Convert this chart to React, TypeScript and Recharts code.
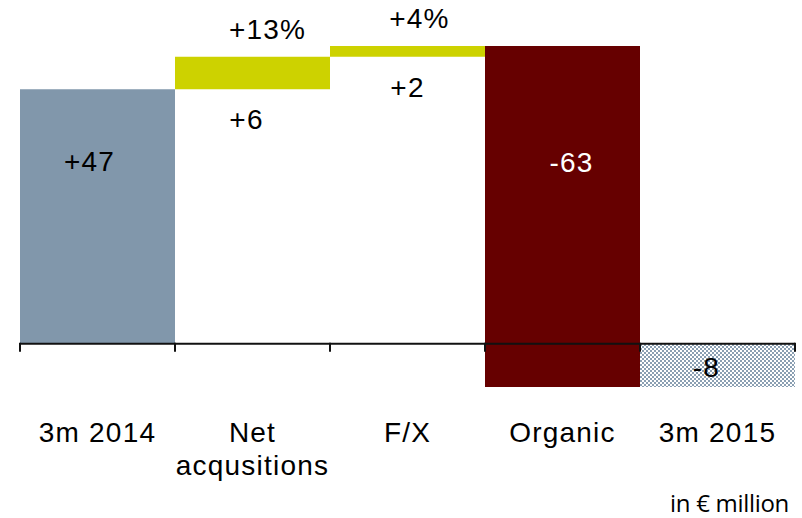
import { BarChart, Bar, XAxis, YAxis, Cell, LabelList } from "recharts";

const CATEGORIES = ["3m 2014", "Net\nacqusitions", "F/X", "Organic", "3m 2015"];
const CHANGES = [47, 6, 2, -63, -8];
const KINDS = ["total", "step", "step", "step", "total"];
const VALUE_LABELS = ["+47", "+6", "+2", "-63", "-8"];
const SHARE_LABELS = ["", "+13%", "+4%", "", ""];

const FILLS = ["#8197ab", "#cdd200", "#cdd200", "#660000", "url(#checker)"];
const FONT = "'Liberation Sans', Arial, sans-serif";

// where each value label sits relative to its bar (px)
const LABEL_PLACE = [
  { from: "top", dx: -8, dy: 82, color: "#000" },
  { from: "bottom", dx: -6, dy: 40, color: "#000" },
  { from: "bottom", dx: 0, dy: 40, color: "#000" },
  { from: "top", dx: 9, dy: 126, color: "#fff" },
  { from: "top", dx: -11, dy: 33, color: "#000" },
];
const SHARE_PLACE = { dx: [0, 15, 12, 0, 0], dy: -18 };

let running = 0;
const data = CATEGORIES.map((name, i) => {
  const start = KINDS[i] === "total" ? 0 : running;
  const end = KINDS[i] === "total" ? CHANGES[i] : running + CHANGES[i];
  running = end;
  return {
    name,
    range: [Math.min(start, end), Math.max(start, end)],
    axis: 0,
    value: VALUE_LABELS[i],
    share: SHARE_LABELS[i],
  };
});

const textStyle = { fontFamily: FONT, fontSize: 28, letterSpacing: 1.2 };

function box(props: any) {
  const vb = props.viewBox ?? props;
  const top = Math.min(vb.y, vb.y + vb.height);
  const bottom = Math.max(vb.y, vb.y + vb.height);
  return { x: vb.x, width: vb.width, top, bottom };
}

function ValueLabel(props: any) {
  const { x, width, top, bottom } = box(props);
  const p = LABEL_PLACE[props.index];
  if (!p) return null;
  const y = (p.from === "top" ? top : bottom) + p.dy;
  return (
    <text x={x + width / 2 + p.dx} y={y} textAnchor="middle" fill={p.color} style={textStyle}>
      {props.value}
    </text>
  );
}

function ShareLabel(props: any) {
  if (!props.value) return null;
  const { x, width, top } = box(props);
  return (
    <text
      x={x + width / 2 + SHARE_PLACE.dx[props.index]}
      y={top + SHARE_PLACE.dy}
      textAnchor="middle"
      fill="#000"
      style={textStyle}
    >
      {props.value}
    </text>
  );
}

function CategoryTick({ x, y, payload }: any) {
  const lines = String(payload.value).split("\n");
  return (
    <text x={x} y={y + 55} textAnchor="middle" fill="#000" style={textStyle}>
      {lines.map((l, i) => (
        <tspan key={i} x={x} dy={i === 0 ? 0 : 33}>
          {l}
        </tspan>
      ))}
    </text>
  );
}

function AxisMark(props: any) {
  const { x, y, width, index } = props;
  const last = index === data.length - 1;
  return (
    <g stroke="#111" strokeWidth={2}>
      <line x1={x} x2={x + width} y1={y} y2={y} />
      <line x1={x} x2={x} y1={y - 1} y2={y + 8} />
      {last && <line x1={x + width} x2={x + width} y1={y - 1} y2={y + 8} />}
    </g>
  );
}

export default function App() {
  return (
    <div style={{ position: "absolute", left: 0, top: 0, width: 802, height: 518, background: "#fff" }}>
      <BarChart
        width={802}
        height={518}
        data={data}
        margin={{ top: 46, right: 7, bottom: 0, left: 20 }}
        barCategoryGap={0}
      >
        <defs>
          <pattern id="checker" width={4} height={4} patternUnits="userSpaceOnUse">
            <rect width={4} height={4} fill="#ffffff" />
            <rect width={2} height={2} fill="#8a9fb2" />
            <rect x={2} y={2} width={2} height={2} fill="#8a9fb2" />
          </pattern>
        </defs>
        <XAxis
          dataKey="name"
          height={131}
          axisLine={false}
          tickLine={false}
          tickSize={0}
          tickMargin={0}
          interval={0}
          tick={<CategoryTick />}
        />
        <XAxis xAxisId="axis" dataKey="name" hide />
        <YAxis hide domain={[-8, 55]} allowDataOverflow />
        <Bar dataKey="range" isAnimationActive={false}>
          {data.map((_, i) => (
            <Cell key={i} fill={FILLS[i]} />
          ))}
          <LabelList dataKey="value" content={<ValueLabel />} />
          <LabelList dataKey="share" content={<ShareLabel />} />
        </Bar>
        <Bar dataKey="axis" xAxisId="axis" isAnimationActive={false} shape={<AxisMark />} />
      </BarChart>
      <svg width={802} height={518} style={{ position: "absolute", left: 0, top: 0, pointerEvents: "none" }}>
        <text x={789} y={512} textAnchor="end" fill="#000" style={{ fontFamily: "'Open Sans', sans-serif", fontSize: 24, letterSpacing: -0.3 }}>
          in € million
        </text>
      </svg>
    </div>
  );
}
